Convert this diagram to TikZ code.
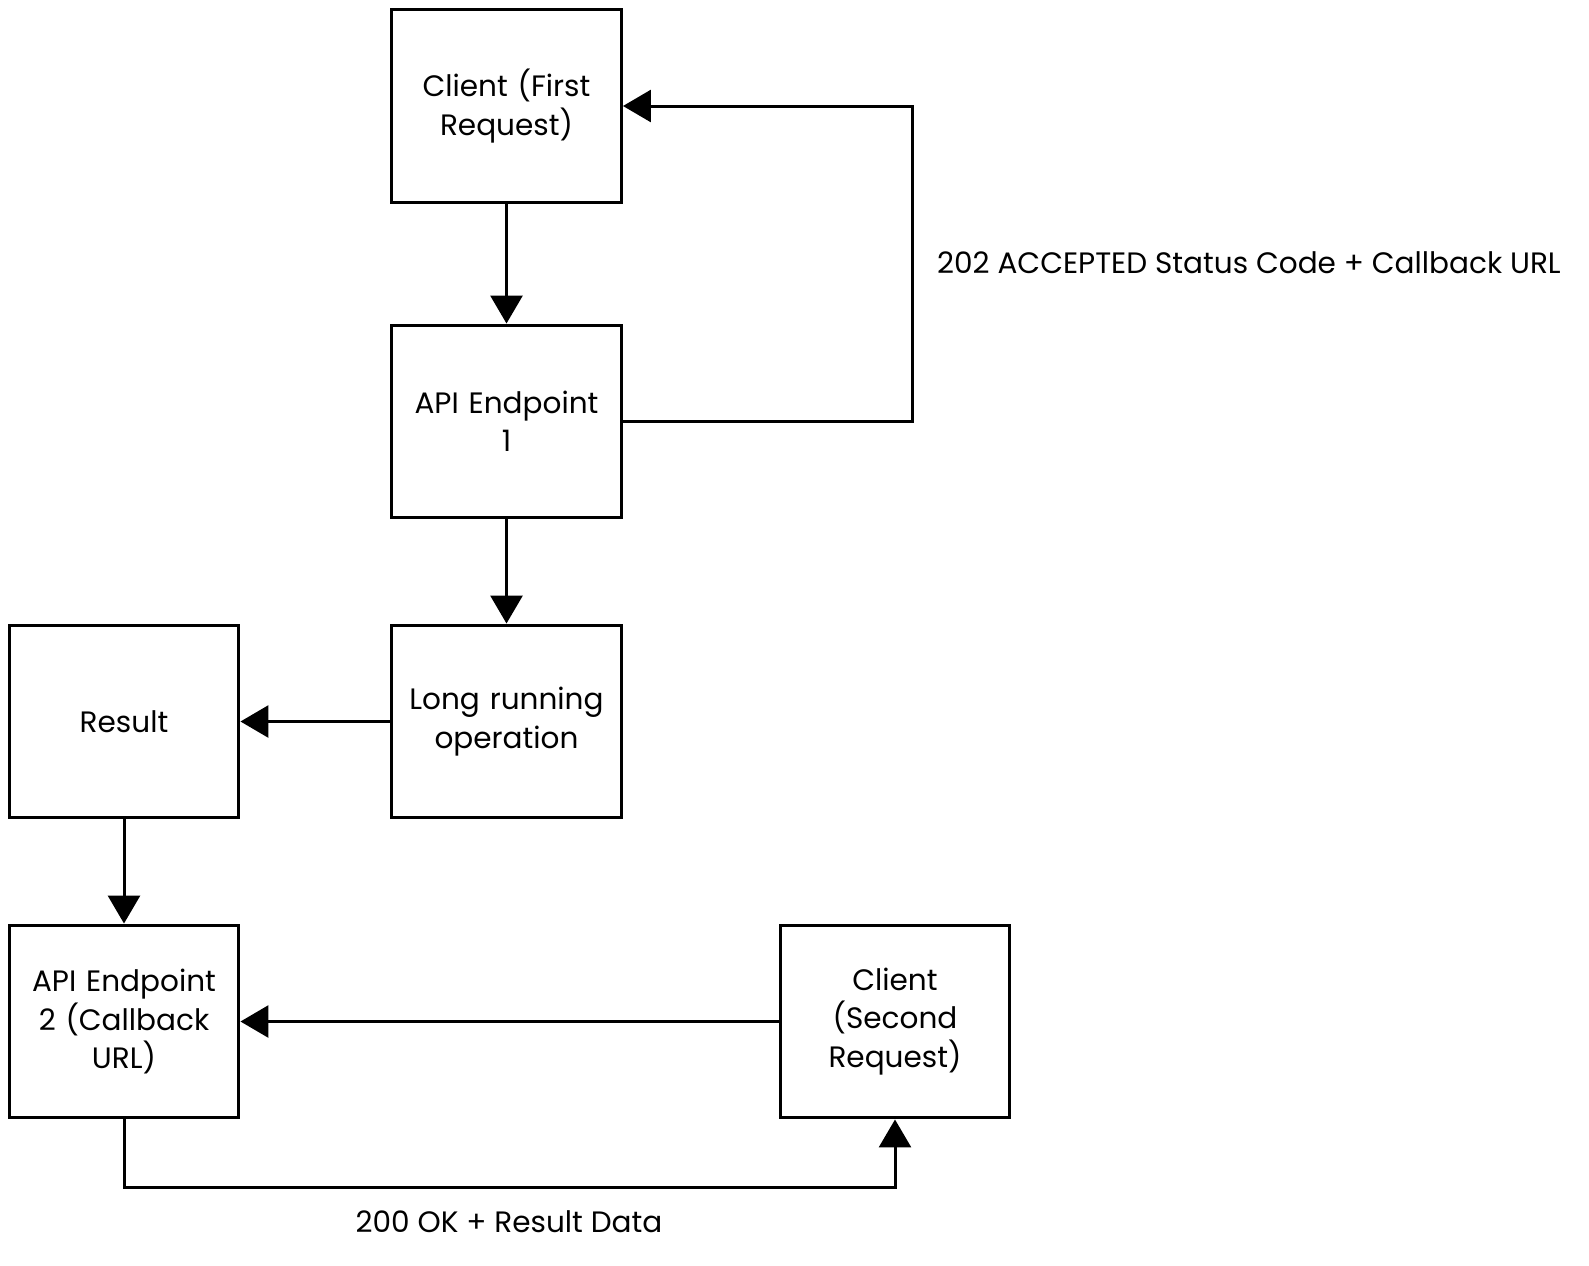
\documentclass[tikz,border=0pt]{standalone}
\usepackage{fontspec}
\setmainfont{Poppins}
\usetikzlibrary{arrows.meta}
\begin{document}
\begin{tikzpicture}[
	x=0.02cm, y=-0.02cm,
	every node/.style={font=\fontsize{16.8}{21.8}\selectfont},
	box/.style={shape=rectangle, draw=black, line width=0.06cm, minimum width=4.6cm, minimum height=3.86cm, text width=4.2cm, align=center, inner sep=0pt},
	link/.style={line width=0.06cm, -{Triangle[length=0.56cm,width=0.64cm]}},
]
\useasboundingbox (0,0) rectangle (1589,1265);
\node[box] (client1) at (506.5,106) {Client (First\\Request)};
\node[box] (api1) at (506.5,421.5) {API Endpoint\\1};
\node[box] (longop) at (506.5,721.5) {Long running\\operation};
\node[box] (result) at (124,721.5) {Result};
\node[box] (api2) at (124,1021.5) {API Endpoint\\2 (Callback\\URL)};
\node[box] (client2) at (895,1021.5) {Client\\(Second\\Request)};
\coordinate (c1) at (912,421.5);
\coordinate (c2) at (912,106);
\coordinate (c3) at (124,1187);
\coordinate (c4) at (895,1187);
\draw[link] (client1) -- (api1);
\draw[link] (api1.east) -- (c1) -- (c2) -- (client1.east);
\draw[link] (api1) -- (longop);
\draw[link] (longop) -- (result);
\draw[link] (result) -- (api2);
\draw[link] (client2) -- (api2);
\draw[link] (api2.south) -- (c3) -- (c4) -- (client2.south);
\node[anchor=west] (lbl1) at (931,263) {202 ACCEPTED Status Code + Callback URL};
\node (lbl2) at (509,1222) {200 OK + Result Data};
\end{tikzpicture}
\end{document}
